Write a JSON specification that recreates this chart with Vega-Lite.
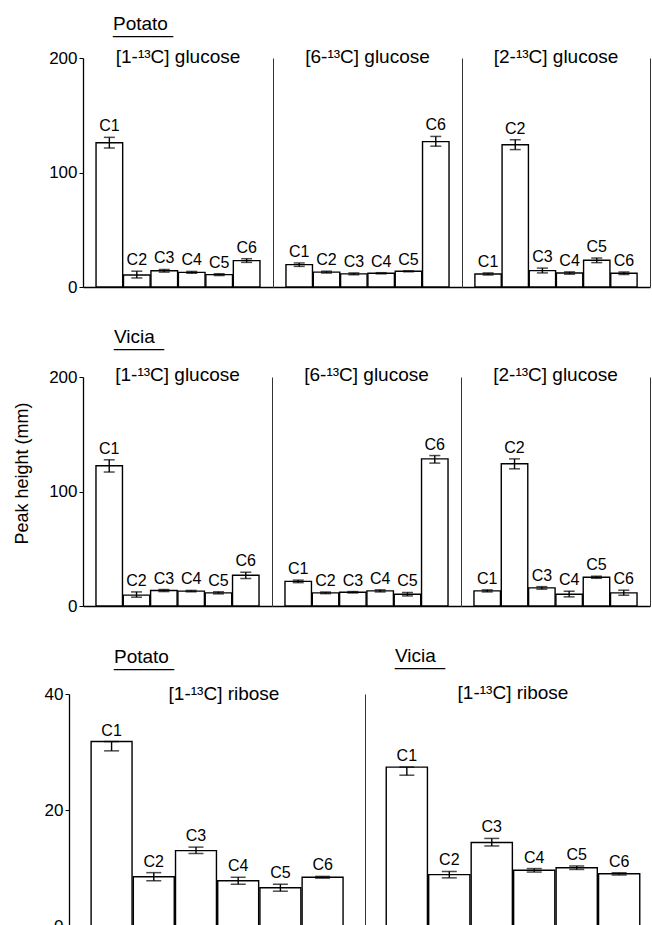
{
  "$schema": "https://vega.github.io/schema/vega-lite/v6.json",
  "background": "white",
  "padding": {"left": 11, "top": 14, "right": 0, "bottom": 0},
  "autosize": {"type": "pad"},
  "config": {
    "font": "Liberation Sans",
    "view": {"stroke": null},
    "axis": {"grid": false, "domainColor": "black", "tickColor": "black", "labelColor": "black", "labelFont": "Liberation Sans", "titleFont": "Liberation Sans", "titleFontWeight": "normal", "titleColor": "black"},
    "title": {"font": "Liberation Sans", "fontSize": 19, "fontWeight": "normal", "color": "black", "subtitleFont": "Liberation Sans", "subtitleFontSize": 18, "subtitleColor": "black"},
    "text": {"font": "Liberation Sans"}
  },
  "datasets": {
    "d": [
      {"p": "A1", "c": "C1", "v": 126, "lo": 121.4, "hi": 130.7},
      {"p": "A1", "c": "C2", "v": 10.5, "lo": 7.9, "hi": 13.8},
      {"p": "A1", "c": "C3", "v": 14.2, "lo": 13, "hi": 15.3},
      {"p": "A1", "c": "C4", "v": 12.8, "lo": 12, "hi": 13.6},
      {"p": "A1", "c": "C5", "v": 10.8, "lo": 10, "hi": 11.6},
      {"p": "A1", "c": "C6", "v": 23, "lo": 21.5, "hi": 24.7},
      {"p": "A6", "c": "C1", "v": 19.5, "lo": 18, "hi": 21},
      {"p": "A6", "c": "C2", "v": 13, "lo": 12.2, "hi": 13.8},
      {"p": "A6", "c": "C3", "v": 11.5, "lo": 10.7, "hi": 12.3},
      {"p": "A6", "c": "C4", "v": 12, "lo": 11.5, "hi": 12.5},
      {"p": "A6", "c": "C5", "v": 13.7, "lo": 13.3, "hi": 14.1},
      {"p": "A6", "c": "C6", "v": 127, "lo": 123, "hi": 131.5},
      {"p": "A2", "c": "C1", "v": 11.4, "lo": 10.5, "hi": 12.3},
      {"p": "A2", "c": "C2", "v": 124.3, "lo": 120, "hi": 128.6},
      {"p": "A2", "c": "C3", "v": 14.3, "lo": 12.3, "hi": 16.5},
      {"p": "A2", "c": "C4", "v": 12.2, "lo": 11.2, "hi": 13.2},
      {"p": "A2", "c": "C5", "v": 23.3, "lo": 21.3, "hi": 25.3},
      {"p": "A2", "c": "C6", "v": 12, "lo": 10.9, "hi": 13.1},
      {"p": "B1", "c": "C1", "v": 122.5, "lo": 117, "hi": 127.7},
      {"p": "B1", "c": "C2", "v": 9.5, "lo": 7.7, "hi": 12.3},
      {"p": "B1", "c": "C3", "v": 13.5, "lo": 12.6, "hi": 14.4},
      {"p": "B1", "c": "C4", "v": 13, "lo": 12.4, "hi": 13.6},
      {"p": "B1", "c": "C5", "v": 11.5, "lo": 10.6, "hi": 12.4},
      {"p": "B1", "c": "C6", "v": 26.8, "lo": 24, "hi": 29.5},
      {"p": "B6", "c": "C1", "v": 21.5, "lo": 20.4, "hi": 22.6},
      {"p": "B6", "c": "C2", "v": 11.5, "lo": 10.8, "hi": 12.2},
      {"p": "B6", "c": "C3", "v": 12, "lo": 11.4, "hi": 12.6},
      {"p": "B6", "c": "C4", "v": 13.2, "lo": 12.3, "hi": 14.1},
      {"p": "B6", "c": "C5", "v": 10.3, "lo": 8.8, "hi": 11.8},
      {"p": "B6", "c": "C6", "v": 128.5, "lo": 124.8, "hi": 131.4},
      {"p": "B2", "c": "C1", "v": 13.2, "lo": 12.3, "hi": 14.1},
      {"p": "B2", "c": "C2", "v": 124.2, "lo": 119.8, "hi": 128.5},
      {"p": "B2", "c": "C3", "v": 15.8, "lo": 14.7, "hi": 16.9},
      {"p": "B2", "c": "C4", "v": 10.3, "lo": 8, "hi": 12.9},
      {"p": "B2", "c": "C5", "v": 25.1, "lo": 24.2, "hi": 26},
      {"p": "B2", "c": "C6", "v": 11.5, "lo": 9.4, "hi": 13.8},
      {"p": "R1", "c": "C1", "v": 31.8, "lo": 30.2, "hi": 31.8},
      {"p": "R1", "c": "C2", "v": 8.5, "lo": 7.8, "hi": 9.2},
      {"p": "R1", "c": "C3", "v": 13, "lo": 12.5, "hi": 13.6},
      {"p": "R1", "c": "C4", "v": 7.8, "lo": 7.2, "hi": 8.4},
      {"p": "R1", "c": "C5", "v": 6.6, "lo": 6, "hi": 7.2},
      {"p": "R1", "c": "C6", "v": 8.4, "lo": 8.25, "hi": 8.55},
      {"p": "R2", "c": "C1", "v": 27.4, "lo": 26, "hi": 27.4},
      {"p": "R2", "c": "C2", "v": 8.85, "lo": 8.3, "hi": 9.4},
      {"p": "R2", "c": "C3", "v": 14.4, "lo": 13.8, "hi": 15.1},
      {"p": "R2", "c": "C4", "v": 9.6, "lo": 9.3, "hi": 9.9},
      {"p": "R2", "c": "C5", "v": 10.05, "lo": 9.75, "hi": 10.35},
      {"p": "R2", "c": "C6", "v": 9, "lo": 8.8, "hi": 9.2}
    ]
  },
  "data": {"name": "d"},
  "spacing": 33,
  "align": "none",
  "vconcat": [
    {
      "title": {"text": "Potato", "subtitle": "______", "anchor": "start", "dx": 102, "offset": 11, "subtitlePadding": -15},
      "spacing": 0,
      "hconcat": [
        {
          "width": 190, "height": 229,
          "title": {"text": "[1-¹³C] glucose", "offset": -17.5, "frame": "group"},
          "transform": [{"filter": "datum.p == 'A1'"}],
          "resolve": {"axis": {"y": "independent"}},
          "encoding": {"x": {"field": "c", "type": "nominal", "scale": {"domain": ["C1","C2","C3","C4","C5","C6"], "paddingInner": 0.03, "paddingOuter": 0.475}, "axis": {"labels": false, "ticks": false, "title": null, "domainWidth": 1.3}}},
          "layer": [
            {"mark": {"type": "bar", "fill": "white", "stroke": "black", "strokeWidth": 1.4}, "encoding": {"y": {"field": "v", "type": "quantitative", "scale": {"domain": [0, 200]}, "axis": {"values": [0, 100, 200], "tickSize": 4, "labelFontSize": 17, "labelPadding": 2, "title": null, "minExtent": 72, "maxExtent": 72, "domainWidth": 1.3}}}},
            {"mark": {"type": "rule", "color": "black", "strokeWidth": 1.4}, "encoding": {"y": {"field": "lo", "type": "quantitative", "axis": null}, "y2": {"field": "hi"}}},
            {"mark": {"type": "tick", "color": "black", "size": 11, "thickness": 1.5}, "encoding": {"y": {"field": "lo", "type": "quantitative", "axis": null}}},
            {"mark": {"type": "tick", "color": "black", "size": 11, "thickness": 1.5}, "encoding": {"y": {"field": "hi", "type": "quantitative", "axis": null}}},
            {"mark": {"type": "text", "baseline": "bottom", "dy": -3, "fontSize": 16, "color": "black"}, "encoding": {"y": {"field": "hi", "type": "quantitative", "axis": null}, "text": {"field": "c"}}}
          ]
        },
        {
          "width": 189, "height": 229,
          "title": {"text": "[6-¹³C] glucose", "offset": -8.5, "frame": "group"},
          "transform": [{"filter": "datum.p == 'A6'"}],
          "resolve": {"axis": {"y": "independent"}},
          "encoding": {"x": {"field": "c", "type": "nominal", "scale": {"domain": ["C1","C2","C3","C4","C5","C6"], "paddingInner": 0.03, "paddingOuter": 0.475}, "axis": {"labels": false, "ticks": false, "title": null, "domainWidth": 1.3}}},
          "layer": [
            {"mark": {"type": "bar", "fill": "white", "stroke": "black", "strokeWidth": 1.4}, "encoding": {"y": {"field": "v", "type": "quantitative", "scale": {"domain": [0, 200]}, "axis": {"labels": false, "ticks": false, "title": null, "minExtent": 0, "maxExtent": 0, "domainColor": "#333", "domainWidth": 1}}}},
            {"mark": {"type": "rule", "color": "black", "strokeWidth": 1.4}, "encoding": {"y": {"field": "lo", "type": "quantitative", "axis": null}, "y2": {"field": "hi"}}},
            {"mark": {"type": "tick", "color": "black", "size": 11, "thickness": 1.5}, "encoding": {"y": {"field": "lo", "type": "quantitative", "axis": null}}},
            {"mark": {"type": "tick", "color": "black", "size": 11, "thickness": 1.5}, "encoding": {"y": {"field": "hi", "type": "quantitative", "axis": null}}},
            {"mark": {"type": "text", "baseline": "bottom", "dy": -3, "fontSize": 16, "color": "black"}, "encoding": {"y": {"field": "hi", "type": "quantitative", "axis": null}, "text": {"field": "c"}}}
          ]
        },
        {
          "width": 188, "height": 229,
          "title": {"text": "[2-¹³C] glucose", "offset": -8.5, "frame": "group"},
          "transform": [{"filter": "datum.p == 'A2'"}],
          "resolve": {"axis": {"y": "independent"}},
          "encoding": {"x": {"field": "c", "type": "nominal", "scale": {"domain": ["C1","C2","C3","C4","C5","C6"], "paddingInner": 0.03, "paddingOuter": 0.475}, "axis": {"labels": false, "ticks": false, "title": null, "domainWidth": 1.3}}},
          "layer": [
            {"mark": {"type": "bar", "fill": "white", "stroke": "black", "strokeWidth": 1.4}, "encoding": {"y": {"field": "v", "type": "quantitative", "scale": {"domain": [0, 200]}, "axis": {"labels": false, "ticks": false, "title": null, "minExtent": 0, "maxExtent": 0, "domainColor": "#333", "domainWidth": 1}}}},
            {"mark": {"type": "rule", "color": "black", "strokeWidth": 1.4}, "encoding": {"y": {"field": "lo", "type": "quantitative", "axis": {"orient": "right", "labels": false, "ticks": false, "title": null, "minExtent": 0, "maxExtent": 0, "domainColor": "#333", "domainWidth": 1}}, "y2": {"field": "hi"}}},
            {"mark": {"type": "tick", "color": "black", "size": 11, "thickness": 1.5}, "encoding": {"y": {"field": "lo", "type": "quantitative", "axis": null}}},
            {"mark": {"type": "tick", "color": "black", "size": 11, "thickness": 1.5}, "encoding": {"y": {"field": "hi", "type": "quantitative", "axis": null}}},
            {"mark": {"type": "text", "baseline": "bottom", "dy": -3, "fontSize": 16, "color": "black"}, "encoding": {"y": {"field": "hi", "type": "quantitative", "axis": null}, "text": {"field": "c"}}}
          ]
        }
      ]
    },
    {
      "title": {"text": "Vicia", "subtitle": "_____", "anchor": "start", "dx": 101, "offset": 16, "subtitlePadding": -15},
      "spacing": 0,
      "hconcat": [
        {
          "width": 189, "height": 229,
          "title": {"text": "[1-¹³C] glucose", "offset": -17, "frame": "group"},
          "transform": [{"filter": "datum.p == 'B1'"}],
          "resolve": {"axis": {"y": "independent"}},
          "encoding": {"x": {"field": "c", "type": "nominal", "scale": {"domain": ["C1","C2","C3","C4","C5","C6"], "paddingInner": 0.03, "paddingOuter": 0.475}, "axis": {"labels": false, "ticks": false, "title": null, "domainWidth": 1.3}}},
          "layer": [
            {"mark": {"type": "bar", "fill": "white", "stroke": "black", "strokeWidth": 1.4}, "encoding": {"y": {"field": "v", "type": "quantitative", "scale": {"domain": [0, 200]}, "axis": {"values": [0, 100, 200], "tickSize": 4, "labelFontSize": 17, "labelPadding": 2, "title": "Peak height (mm)", "titleFontSize": 18, "titlePadding": 13, "titleY": 96, "minExtent": 39, "maxExtent": 39, "domainWidth": 1.3}}}},
            {"mark": {"type": "rule", "color": "black", "strokeWidth": 1.4}, "encoding": {"y": {"field": "lo", "type": "quantitative", "axis": null}, "y2": {"field": "hi"}}},
            {"mark": {"type": "tick", "color": "black", "size": 11, "thickness": 1.5}, "encoding": {"y": {"field": "lo", "type": "quantitative", "axis": null}}},
            {"mark": {"type": "tick", "color": "black", "size": 11, "thickness": 1.5}, "encoding": {"y": {"field": "hi", "type": "quantitative", "axis": null}}},
            {"mark": {"type": "text", "baseline": "bottom", "dy": -3, "fontSize": 16, "color": "black"}, "encoding": {"y": {"field": "hi", "type": "quantitative", "axis": null}, "text": {"field": "c"}}}
          ]
        },
        {
          "width": 189, "height": 229,
          "title": {"text": "[6-¹³C] glucose", "offset": -8, "frame": "group"},
          "transform": [{"filter": "datum.p == 'B6'"}],
          "resolve": {"axis": {"y": "independent"}},
          "encoding": {"x": {"field": "c", "type": "nominal", "scale": {"domain": ["C1","C2","C3","C4","C5","C6"], "paddingInner": 0.03, "paddingOuter": 0.475}, "axis": {"labels": false, "ticks": false, "title": null, "domainWidth": 1.3}}},
          "layer": [
            {"mark": {"type": "bar", "fill": "white", "stroke": "black", "strokeWidth": 1.4}, "encoding": {"y": {"field": "v", "type": "quantitative", "scale": {"domain": [0, 200]}, "axis": {"labels": false, "ticks": false, "title": null, "minExtent": 0, "maxExtent": 0, "domainColor": "#333", "domainWidth": 1}}}},
            {"mark": {"type": "rule", "color": "black", "strokeWidth": 1.4}, "encoding": {"y": {"field": "lo", "type": "quantitative", "axis": null}, "y2": {"field": "hi"}}},
            {"mark": {"type": "tick", "color": "black", "size": 11, "thickness": 1.5}, "encoding": {"y": {"field": "lo", "type": "quantitative", "axis": null}}},
            {"mark": {"type": "tick", "color": "black", "size": 11, "thickness": 1.5}, "encoding": {"y": {"field": "hi", "type": "quantitative", "axis": null}}},
            {"mark": {"type": "text", "baseline": "bottom", "dy": -3, "fontSize": 16, "color": "black"}, "encoding": {"y": {"field": "hi", "type": "quantitative", "axis": null}, "text": {"field": "c"}}}
          ]
        },
        {
          "width": 189, "height": 229,
          "title": {"text": "[2-¹³C] glucose", "offset": -8, "frame": "group"},
          "transform": [{"filter": "datum.p == 'B2'"}],
          "resolve": {"axis": {"y": "independent"}},
          "encoding": {"x": {"field": "c", "type": "nominal", "scale": {"domain": ["C1","C2","C3","C4","C5","C6"], "paddingInner": 0.03, "paddingOuter": 0.475}, "axis": {"labels": false, "ticks": false, "title": null, "domainWidth": 1.3}}},
          "layer": [
            {"mark": {"type": "bar", "fill": "white", "stroke": "black", "strokeWidth": 1.4}, "encoding": {"y": {"field": "v", "type": "quantitative", "scale": {"domain": [0, 200]}, "axis": {"labels": false, "ticks": false, "title": null, "minExtent": 0, "maxExtent": 0, "domainColor": "#333", "domainWidth": 1}}}},
            {"mark": {"type": "rule", "color": "black", "strokeWidth": 1.4}, "encoding": {"y": {"field": "lo", "type": "quantitative", "axis": {"orient": "right", "labels": false, "ticks": false, "title": null, "minExtent": 0, "maxExtent": 0, "domainColor": "#333", "domainWidth": 1}}, "y2": {"field": "hi"}}},
            {"mark": {"type": "tick", "color": "black", "size": 11, "thickness": 1.5}, "encoding": {"y": {"field": "lo", "type": "quantitative", "axis": null}}},
            {"mark": {"type": "tick", "color": "black", "size": 11, "thickness": 1.5}, "encoding": {"y": {"field": "hi", "type": "quantitative", "axis": null}}},
            {"mark": {"type": "text", "baseline": "bottom", "dy": -3, "fontSize": 16, "color": "black"}, "encoding": {"y": {"field": "hi", "type": "quantitative", "axis": null}, "text": {"field": "c"}}}
          ]
        }
      ]
    },
    {
      "spacing": 0,
      "hconcat": [
        {
          "title": {"text": "Potato", "subtitle": "______", "anchor": "start", "dx": 101, "offset": 15, "subtitlePadding": -15},
          "hconcat": [
            {
              "width": 282, "height": 232,
              "title": {"text": "[1-¹³C] ribose", "offset": -19, "frame": "group"},
              "transform": [{"filter": "datum.p == 'R1'"}],
              "resolve": {"axis": {"y": "independent"}},
              "encoding": {"x": {"field": "c", "type": "nominal", "scale": {"domain": ["C1","C2","C3","C4","C5","C6"], "paddingInner": 0.03, "paddingOuter": 0.356, "align": 0.27}, "axis": {"labels": false, "ticks": false, "title": null, "domainWidth": 1.3}}},
              "layer": [
                {"mark": {"type": "bar", "fill": "white", "stroke": "black", "strokeWidth": 1.4}, "encoding": {"y": {"field": "v", "type": "quantitative", "scale": {"domain": [0, 40]}, "axis": {"values": [0, 20, 40], "offset": 14, "tickSize": 4, "labelFontSize": 17, "labelPadding": 2, "title": null, "minExtent": 56, "maxExtent": 56, "domainWidth": 1.3}}}},
                {"mark": {"type": "rule", "color": "black", "strokeWidth": 1.4}, "encoding": {"y": {"field": "lo", "type": "quantitative", "axis": null}, "y2": {"field": "hi"}}},
                {"mark": {"type": "tick", "color": "black", "size": 15, "thickness": 1.5}, "encoding": {"y": {"field": "lo", "type": "quantitative", "axis": null}}},
                {"mark": {"type": "tick", "color": "black", "size": 15, "thickness": 1.5}, "encoding": {"y": {"field": "hi", "type": "quantitative", "axis": null}}},
                {"mark": {"type": "text", "baseline": "bottom", "dy": -3, "fontSize": 16, "color": "black"}, "encoding": {"y": {"field": "hi", "type": "quantitative", "axis": null}, "text": {"field": "c"}}}
              ]
            }
          ]
        },
        {
          "title": {"text": "Vicia", "subtitle": "_____", "anchor": "start", "dx": 30, "offset": 15, "subtitlePadding": -15},
          "hconcat": [
            {
              "width": 296, "height": 232,
              "title": {"text": "[1-¹³C] ribose", "offset": -9, "frame": "group"},
              "transform": [{"filter": "datum.p == 'R2'"}],
              "resolve": {"axis": {"y": "independent"}},
              "encoding": {"x": {"field": "c", "type": "nominal", "scale": {"domain": ["C1","C2","C3","C4","C5","C6"], "paddingInner": 0.03, "paddingOuter": 0.5}, "axis": {"labels": false, "ticks": false, "title": null, "domainWidth": 1.3}}},
              "layer": [
                {"mark": {"type": "bar", "fill": "white", "stroke": "black", "strokeWidth": 1.4}, "encoding": {"y": {"field": "v", "type": "quantitative", "scale": {"domain": [0, 40]}, "axis": {"labels": false, "ticks": false, "title": null, "minExtent": 0, "maxExtent": 0, "domainColor": "#333", "domainWidth": 1}}}},
                {"mark": {"type": "rule", "color": "black", "strokeWidth": 1.4}, "encoding": {"y": {"field": "lo", "type": "quantitative", "axis": null}, "y2": {"field": "hi"}}},
                {"mark": {"type": "tick", "color": "black", "size": 15, "thickness": 1.5}, "encoding": {"y": {"field": "lo", "type": "quantitative", "axis": null}}},
                {"mark": {"type": "tick", "color": "black", "size": 15, "thickness": 1.5}, "encoding": {"y": {"field": "hi", "type": "quantitative", "axis": null}}},
                {"mark": {"type": "text", "baseline": "bottom", "dy": -3, "fontSize": 16, "color": "black"}, "encoding": {"y": {"field": "hi", "type": "quantitative", "axis": null}, "text": {"field": "c"}}}
              ]
            }
          ]
        }
      ]
    }
  ]
}
